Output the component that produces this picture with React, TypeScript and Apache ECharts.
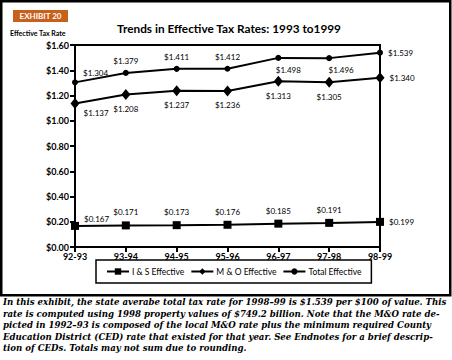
import React, { useEffect, useRef } from 'react';
import * as echarts from 'echarts';

const categories = ['92-93', '93-94', '94-95', '95-96', '96-97', '97-98', '98-99'];
const isValues = [0.167, 0.171, 0.173, 0.176, 0.185, 0.191, 0.199];
const moValues = [1.137, 1.208, 1.237, 1.236, 1.313, 1.305, 1.34];
const totalValues = [1.304, 1.379, 1.411, 1.412, 1.498, 1.496, 1.539];
const seriesNames = ['I & S Effective', 'M & O Effective', 'Total Effective'];
const titleText = 'Trends in Effective Tax Rates: 1993 to1999';
const exhibitText = 'EXHIBIT 20';
const yAxisName = 'Effective Tax Rate';
const captionLines = [
  'In this exhibit, the state averabe total tax rate for 1998\u201399 is $1.539 per $100 of value. This',
  'rate is computed using 1998 property values of $749.2 billion. Note that the M&O rate de-',
  'picted in 1992\u201393 is composed of the local M&O rate plus the minimum required County',
  'Education District (CED) rate that existed for that year. See Endnotes for a brief descrip-',
  'tion of CEDs. Totals may not sum due to rounding.',
];

const FONT = 'Lato, "DejaVu Sans", sans-serif';

const totalPos = ['right', 'top', 'top', 'top', 'bottom', 'bottom', 'right'];
const totalOff = [[0, -9], [0, 0], [0, 0], [0, 0], [10, 0], [12, 0], [0, 0]];
const moPos = ['right', 'bottom', 'bottom', 'bottom', 'bottom', 'bottom', 'right'];
const moOff = [[-1, 10], [0, 0], [0, 0], [0, 0], [0, 0], [0, 0], [0, 0]];
const isPos = ['right', 'top', 'top', 'top', 'top', 'top', 'right'];
const isOff = [[0, -7], [0, 0], [0, 0], [0, 0], [0, 0], [0, 0], [0, 0]];

function buildData(values: number[], pos: string[], off: number[][]) {
  return values.map((v, i) => ({
    value: v,
    label: { position: pos[i], offset: off[i] },
  }));
}

export default function App() {
  const ref = useRef<HTMLDivElement>(null);
  useEffect(() => {
    if (!ref.current) return;
    const chart = echarts.init(ref.current, null, { renderer: 'svg' });
    const labelCommon = {
      show: true,
      fontFamily: FONT,
      fontSize: 8,
      color: '#000',
      distance: 5,
      formatter: (p: any) => '$' + Number(p.value).toFixed(3),
    };
    const lineCommon = {
      type: 'line',
      lineStyle: { color: '#000', width: 2 },
      itemStyle: { color: '#000' },
      label: labelCommon,
      z: 3,
    };
    chart.setOption({
      animation: false,
      backgroundColor: '#fff',
      grid: {
        left: 75,
        top: 45,
        right: 72,
        bottom: 113,
        show: true,
        borderColor: '#000',
        borderWidth: 2,
      },
      xAxis: {
        type: 'category',
        data: categories,
        boundaryGap: false,
        axisLine: { lineStyle: { color: '#000', width: 2 } },
        axisTick: { show: true, length: 5, lineStyle: { color: '#000', width: 2 } },
        axisLabel: { color: '#000', fontFamily: FONT, fontSize: 9, fontWeight: 'bold', margin: 5 },
        splitLine: { show: false },
      },
      yAxis: {
        type: 'value',
        min: 0,
        max: 1.6,
        interval: 0.2,
        axisLine: { show: true, lineStyle: { color: '#000', width: 2 } },
        axisTick: { show: true, length: 5, lineStyle: { color: '#000', width: 2 } },
        axisLabel: {
          color: '#000',
          fontFamily: FONT,
          fontSize: 9,
          fontWeight: 'bold',
          margin: 6,
          formatter: (v: number) => '$' + v.toFixed(2),
        },
        splitLine: { show: false },
      },
      legend: {
        data: seriesNames,
        left: 96,
        top: 260,
        width: 260,
        orient: 'horizontal',
        borderColor: '#000',
        borderWidth: 1.5,
        padding: [7, 10, 7, 10],
        itemGap: 6,
        itemWidth: 22,
        itemHeight: 8,
        textStyle: { color: '#000', fontFamily: FONT, fontSize: 8.5, padding: [0, 0, 0, -2] },
      },
      series: [
        {
          ...lineCommon,
          name: seriesNames[0],
          symbol: 'rect',
          symbolSize: 8,
          data: buildData(isValues, isPos, isOff),
        },
        {
          ...lineCommon,
          name: seriesNames[1],
          symbol: 'diamond',
          symbolSize: [9, 11],
          data: buildData(moValues, moPos, moOff),
        },
        {
          ...lineCommon,
          name: seriesNames[2],
          symbol: 'circle',
          symbolSize: 6,
          data: buildData(totalValues, totalPos, totalOff),
        },
      ],
      graphic: [
        {
          type: 'rect',
          shape: { x: 1.25, y: 1.25, width: 449, height: 294 },
          style: { fill: 'none', stroke: '#000', lineWidth: 2.5 },
          silent: true,
        },
        {
          type: 'rect',
          shape: { x: 13, y: 10, width: 55, height: 12 },
          style: { fill: '#c8601c' },
        },
        {
          type: 'text',
          x: 40.5,
          y: 16,
          style: {
            text: exhibitText,
            fill: '#fff',
            font: 'bold 8px ' + FONT,
            align: 'center',
            verticalAlign: 'middle',
          },
        },
        {
          type: 'text',
          x: 229,
          y: 28,
          style: {
            text: titleText,
            fill: '#000',
            font: 'bold 11.8px ' + FONT,
            align: 'center',
            verticalAlign: 'middle',
          },
        },
        {
          type: 'text',
          x: 10,
          y: 33,
          style: {
            text: yAxisName,
            fill: '#000',
            font: 'bold 7px ' + FONT,
            align: 'left',
            verticalAlign: 'middle',
          },
        },
        ...captionLines.map((line, i) => ({
          type: 'text',
          x: 3,
          y: 302 + i * 11.6,
          style: {
            text: line,
            fill: '#000',
            font: 'italic bold 8.6px "DejaVu Serif", serif',
            align: 'left',
            verticalAlign: 'middle',
          },
        })),
      ],
    });
    return () => chart.dispose();
  }, []);
  return (
    <div
      ref={ref}
      style={{ position: 'fixed', left: 0, top: 0, width: 452, height: 360, background: '#fff' }}
    />
  );
}
